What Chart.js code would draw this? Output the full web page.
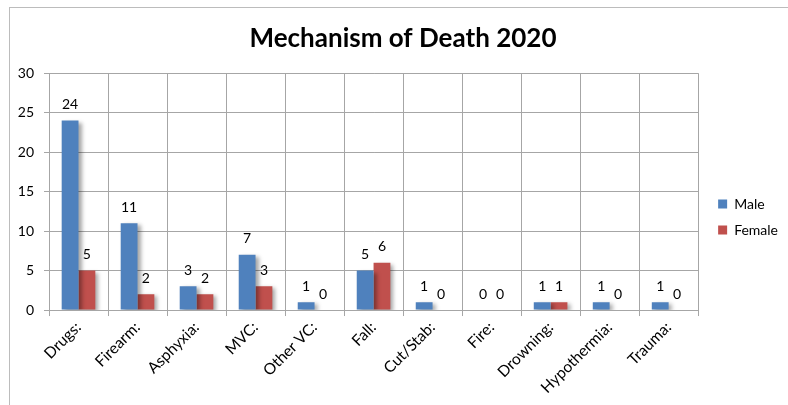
<!DOCTYPE html>
<html>
<head>
<meta charset="utf-8">
<script src="https://cdn.jsdelivr.net/npm/chart.js@4/dist/chart.umd.min.js"></script>
<style>
  html, body { margin: 0; padding: 0; background: #fff; overflow: hidden; }
  #wrap { position: relative; width: 788px; height: 405px; }
  #frame { position: absolute; left: 9px; top: 7px; width: 800px; height: 420px; border: 1px solid #bcbcbc; pointer-events: none; }
</style>
</head>
<body>
<div id="wrap">
  <canvas id="chart" width="788" height="405"></canvas>
  <div id="frame"></div>
</div>
<script>
// dados do gráfico
const categories = ['Drugs:', 'Firearm:', 'Asphyxia:', 'MVC:', 'Other VC:', 'Fall:', 'Cut/Stab:', 'Fire:', 'Drowning:', 'Hypothermia:', 'Trauma:'];
const maleValues = [24, 11, 3, 7, 1, 5, 1, 0, 1, 1, 1];
const femaleValues = [5, 2, 2, 3, 0, 6, 0, 0, 1, 0, 0];
const yMin = 0;
const yMax = 30;
const yStep = 5;

const FONT = 'Lato, "Open Sans", sans-serif';

// sombra atrás das barras
const barShadow = {
  id: 'barShadow',
  beforeDatasetsDraw(chart) {
    const ctx = chart.ctx;
    ctx.save();
    ctx.shadowColor = 'rgba(0,0,0,0.35)';
    ctx.shadowOffsetX = 3;
    ctx.shadowOffsetY = 2;
    ctx.shadowBlur = 4;
  },
  afterDatasetsDraw(chart) {
    chart.ctx.restore();
  }
};

// rótulos de valor acima das barras
const valueLabels = {
  id: 'valueLabels',
  afterDatasetsDraw(chart) {
    const ctx = chart.ctx;
    ctx.save();
    ctx.font = '14px ' + FONT;
    ctx.fillStyle = '#000';
    ctx.textAlign = 'center';
    ctx.textBaseline = 'bottom';
    chart.data.datasets.forEach((ds, i) => {
      const meta = chart.getDatasetMeta(i);
      meta.data.forEach((bar, j) => {
        ctx.fillText(String(ds.data[j]), bar.x, bar.y - 9);
      });
    });
    ctx.restore();
  }
};

const ctx = document.getElementById('chart').getContext('2d');

new Chart(ctx, {
  type: 'bar',
  data: {
    labels: categories,
    datasets: [
      {
        label: 'Male',
        data: maleValues,
        backgroundColor: '#4F81BD',
        categoryPercentage: 0.57,
        barPercentage: 1.0
      },
      {
        label: 'Female',
        data: femaleValues,
        backgroundColor: '#C0504D',
        categoryPercentage: 0.57,
        barPercentage: 1.0
      }
    ]
  },
  options: {
    responsive: false,
    animation: false,
    layout: {
      padding: { left: 18, right: 0, top: 10, bottom: 6 }
    },
    plugins: {
      title: {
        display: true,
        text: 'Mechanism of Death 2020',
        color: '#000',
        font: { family: FONT, size: 26, weight: 'bold' },
        padding: { top: 13, bottom: 19 }
      },
      legend: {
        position: 'right',
        align: 'start',
        title: {
          display: true,
          text: ' ',
          font: { size: 10 },
          padding: { top: 163, bottom: 0 }
        },
        labels: {
          boxWidth: 9,
          boxHeight: 9,
          padding: 12,
          color: '#000',
          font: { family: FONT, size: 14 }
        }
      },
      tooltip: { enabled: false }
    },
    scales: {
      x: {
        grid: {
          color: '#a6a6a6',
          tickLength: 6
        },
        border: { color: '#a6a6a6' },
        ticks: {
          color: '#000',
          font: { family: FONT, size: 15.5 },
          maxRotation: 45,
          minRotation: 45,
          padding: 2
        }
      },
      y: {
        min: yMin,
        max: yMax,
        grid: {
          color: '#a6a6a6',
          tickLength: 5
        },
        border: { color: '#a6a6a6' },
        ticks: {
          stepSize: yStep,
          color: '#000',
          font: { family: FONT, size: 14 },
          padding: 10
        },
        afterFit: function(scale) {
          scale.width = 31;
        }
      },
      // espaço vazio entre a área do gráfico e a legenda
      gap: {
        position: 'right',
        grid: { display: false },
        border: { display: false },
        ticks: { display: false },
        afterFit: function(scale) {
          scale.width = 8;
        }
      }
    }
  },
  plugins: [barShadow, valueLabels]
});
</script>
</body>
</html>
